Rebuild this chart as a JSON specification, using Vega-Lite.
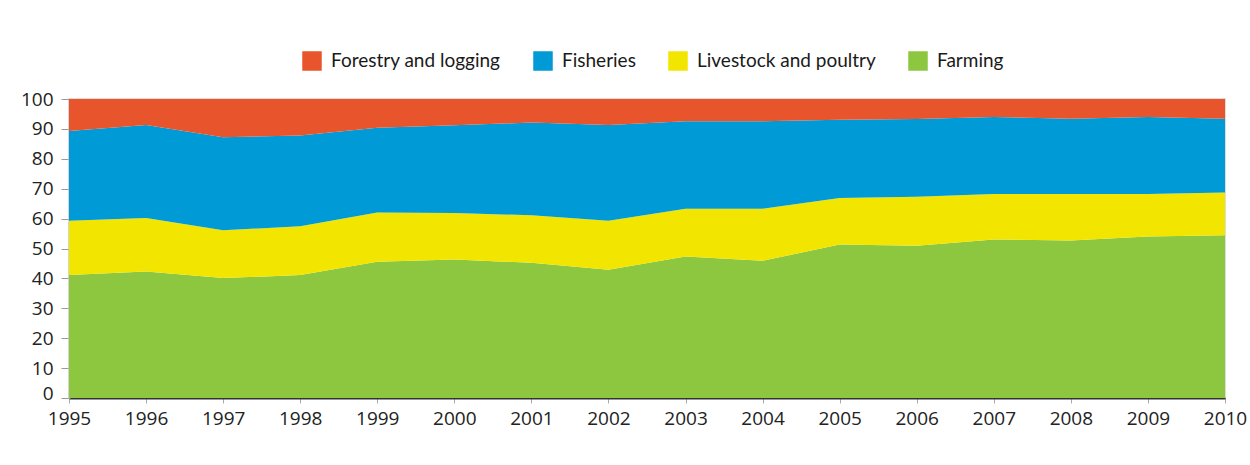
{
  "$schema": "https://vega.github.io/schema/vega-lite/v6.json",
  "width": 1156,
  "height": 299,
  "autosize": {"type": "none"},
  "padding": {"left": 69, "top": 99, "right": 25, "bottom": 67},
  "background": "white",
  "config": {
    "view": {"stroke": "#dddddd", "strokeWidth": 2},
    "font": "Open Sans"
  },
  "data": {
    "values": [
      {"year": 1995, "sector": "Farming", "share": 41.1},
      {"year": 1995, "sector": "Livestock and poultry", "share": 18.2},
      {"year": 1995, "sector": "Fisheries", "share": 30.0},
      {"year": 1995, "sector": "Forestry and logging", "share": 10.7},
      {"year": 1996, "sector": "Farming", "share": 42.3},
      {"year": 1996, "sector": "Livestock and poultry", "share": 17.9},
      {"year": 1996, "sector": "Fisheries", "share": 31.1},
      {"year": 1996, "sector": "Forestry and logging", "share": 8.7},
      {"year": 1997, "sector": "Farming", "share": 40.1},
      {"year": 1997, "sector": "Livestock and poultry", "share": 16.0},
      {"year": 1997, "sector": "Fisheries", "share": 31.1},
      {"year": 1997, "sector": "Forestry and logging", "share": 12.8},
      {"year": 1998, "sector": "Farming", "share": 41.1},
      {"year": 1998, "sector": "Livestock and poultry", "share": 16.3},
      {"year": 1998, "sector": "Fisheries", "share": 30.4},
      {"year": 1998, "sector": "Forestry and logging", "share": 12.2},
      {"year": 1999, "sector": "Farming", "share": 45.6},
      {"year": 1999, "sector": "Livestock and poultry", "share": 16.4},
      {"year": 1999, "sector": "Fisheries", "share": 28.4},
      {"year": 1999, "sector": "Forestry and logging", "share": 9.6},
      {"year": 2000, "sector": "Farming", "share": 46.3},
      {"year": 2000, "sector": "Livestock and poultry", "share": 15.6},
      {"year": 2000, "sector": "Fisheries", "share": 29.3},
      {"year": 2000, "sector": "Forestry and logging", "share": 8.8},
      {"year": 2001, "sector": "Farming", "share": 45.2},
      {"year": 2001, "sector": "Livestock and poultry", "share": 15.9},
      {"year": 2001, "sector": "Fisheries", "share": 31.0},
      {"year": 2001, "sector": "Forestry and logging", "share": 7.9},
      {"year": 2002, "sector": "Farming", "share": 42.9},
      {"year": 2002, "sector": "Livestock and poultry", "share": 16.4},
      {"year": 2002, "sector": "Fisheries", "share": 32.0},
      {"year": 2002, "sector": "Forestry and logging", "share": 8.7},
      {"year": 2003, "sector": "Farming", "share": 47.3},
      {"year": 2003, "sector": "Livestock and poultry", "share": 16.0},
      {"year": 2003, "sector": "Fisheries", "share": 29.3},
      {"year": 2003, "sector": "Forestry and logging", "share": 7.4},
      {"year": 2004, "sector": "Farming", "share": 45.9},
      {"year": 2004, "sector": "Livestock and poultry", "share": 17.4},
      {"year": 2004, "sector": "Fisheries", "share": 29.3},
      {"year": 2004, "sector": "Forestry and logging", "share": 7.4},
      {"year": 2005, "sector": "Farming", "share": 51.3},
      {"year": 2005, "sector": "Livestock and poultry", "share": 15.6},
      {"year": 2005, "sector": "Fisheries", "share": 26.2},
      {"year": 2005, "sector": "Forestry and logging", "share": 6.9},
      {"year": 2006, "sector": "Farming", "share": 50.9},
      {"year": 2006, "sector": "Livestock and poultry", "share": 16.4},
      {"year": 2006, "sector": "Fisheries", "share": 26.0},
      {"year": 2006, "sector": "Forestry and logging", "share": 6.7},
      {"year": 2007, "sector": "Farming", "share": 53.0},
      {"year": 2007, "sector": "Livestock and poultry", "share": 15.2},
      {"year": 2007, "sector": "Fisheries", "share": 25.8},
      {"year": 2007, "sector": "Forestry and logging", "share": 6.0},
      {"year": 2008, "sector": "Farming", "share": 52.7},
      {"year": 2008, "sector": "Livestock and poultry", "share": 15.5},
      {"year": 2008, "sector": "Fisheries", "share": 25.2},
      {"year": 2008, "sector": "Forestry and logging", "share": 6.6},
      {"year": 2009, "sector": "Farming", "share": 54.0},
      {"year": 2009, "sector": "Livestock and poultry", "share": 14.2},
      {"year": 2009, "sector": "Fisheries", "share": 25.8},
      {"year": 2009, "sector": "Forestry and logging", "share": 6.0},
      {"year": 2010, "sector": "Farming", "share": 54.4},
      {"year": 2010, "sector": "Livestock and poultry", "share": 14.3},
      {"year": 2010, "sector": "Fisheries", "share": 24.7},
      {"year": 2010, "sector": "Forestry and logging", "share": 6.6}
    ]
  },
  "transform": [
    {"calculate": "indexof(['Farming', 'Livestock and poultry', 'Fisheries', 'Forestry and logging'], datum.sector)", "as": "stackRank"}
  ],
  "mark": {"type": "area", "interpolate": "linear"},
  "encoding": {
    "x": {
      "field": "year",
      "type": "quantitative",
      "scale": {"domain": [1995, 2010], "nice": false, "zero": false},
      "axis": {
        "title": null,
        "values": [1995, 1996, 1997, 1998, 1999, 2000, 2001, 2002, 2003, 2004, 2005, 2006, 2007, 2008, 2009, 2010],
        "format": "d",
        "grid": false,
        "labelFlush": false,
        "labelOverlap": false,
        "domainColor": "#333333",
        "domainWidth": 2,
        "tickColor": "#aaaaaa",
        "tickSize": 5,
        "tickWidth": 1,
        "labelPadding": 6,
        "labelFontSize": 19,
        "labelColor": "#222222",
        "labelFont": "Open Sans"
      }
    },
    "y": {
      "field": "share",
      "type": "quantitative",
      "stack": "zero",
      "scale": {"domain": [0, 100], "nice": false},
      "axis": {
        "title": null,
        "values": [0, 10, 20, 30, 40, 50, 60, 70, 80, 90, 100],
        "grid": false,
        "domainColor": "#cccccc",
        "domainWidth": 2,
        "tickColor": "#999999",
        "tickSize": 8,
        "labelPadding": 8,
        "labelOffset": {"condition": {"test": "datum.value === 0", "value": -5}, "value": 0},
        "labelFontSize": 19,
        "labelColor": "#222222",
        "labelFont": "Open Sans"
      }
    },
    "order": {"field": "stackRank", "type": "quantitative", "sort": "ascending"},
    "color": {
      "field": "sector",
      "type": "nominal",
      "scale": {
        "domain": ["Forestry and logging", "Fisheries", "Livestock and poultry", "Farming"],
        "range": ["#E8542C", "#009AD6", "#F2E500", "#8DC63F"]
      },
      "legend": {
        "title": null,
        "orient": "none",
        "direction": "horizontal",
        "legendX": 233,
        "legendY": -48,
        "symbolType": "square",
        "symbolSize": 380,
        "symbolStrokeWidth": 0,
        "symbolOpacity": 1,
        "labelFontSize": 19,
        "labelFont": "Lato",
        "labelColor": "#1a1a1a",
        "labelLimit": 400,
        "labelOffset": 9,
        "columnPadding": 32,
        "padding": 0
      }
    }
  }
}
